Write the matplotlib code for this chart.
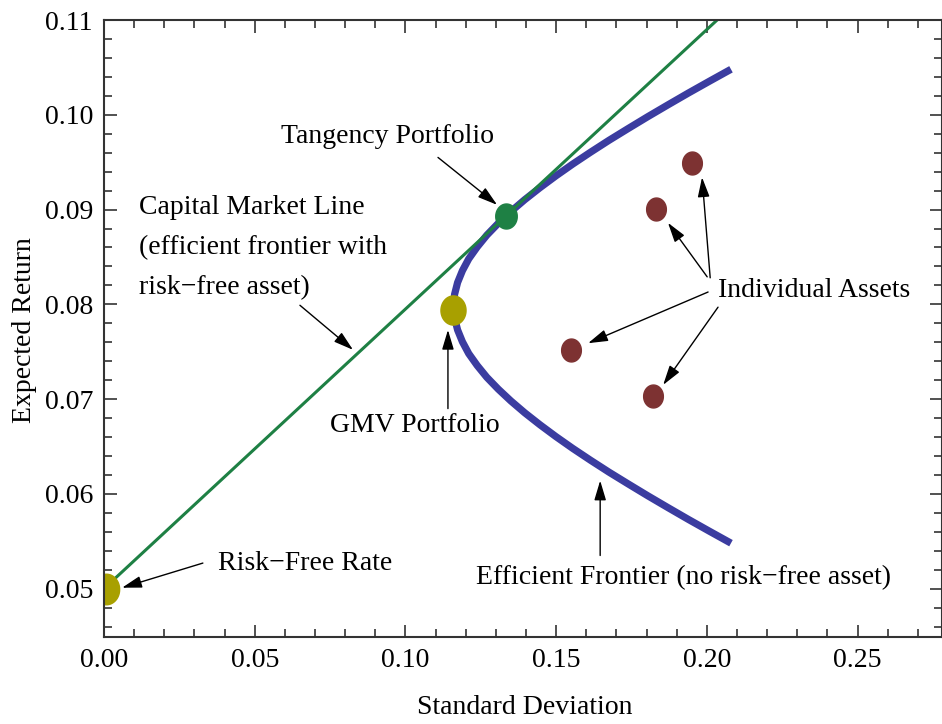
import matplotlib
matplotlib.use("Agg")
import matplotlib.pyplot as plt
import numpy as np

# values
frontier_sd = [0.2080, 0.2009, 0.1939, 0.1871, 0.1804, 0.1739, 0.1675, 0.1614, 0.1555, 0.1499,
               0.1446, 0.1396, 0.1350, 0.1308, 0.1270, 0.1238, 0.1210, 0.1189, 0.1173, 0.1163,
               0.1160,
               0.1163, 0.1173, 0.1189, 0.1210, 0.1238, 0.1270, 0.1308, 0.1350, 0.1396, 0.1446,
               0.1499, 0.1555, 0.1614, 0.1675, 0.1739, 0.1804, 0.1871, 0.1939, 0.2009, 0.2080]
frontier_ret = [0.05480, 0.05605, 0.05730, 0.05855, 0.05980, 0.06105, 0.06230, 0.06355, 0.06480, 0.06605,
                0.06730, 0.06855, 0.06980, 0.07105, 0.07230, 0.07355, 0.07480, 0.07605, 0.07730, 0.07855,
                0.07980,
                0.08105, 0.08230, 0.08355, 0.08480, 0.08605, 0.08730, 0.08855, 0.08980, 0.09105, 0.09230,
                0.09355, 0.09480, 0.09605, 0.09730, 0.09855, 0.09980, 0.10105, 0.10230, 0.10355, 0.10480]

cml_sd = [0.0, 0.2034]
cml_ret = [0.05, 0.11]

asset_sd = [0.155, 0.182, 0.183, 0.195]
asset_ret = [0.0752, 0.0703, 0.0901, 0.0949]

rf_point = (0.0008, 0.05)
gmv_point = (0.1157, 0.0794)
tan_point = (0.1332, 0.0893)

plt.rcParams['font.family'] = ['Liberation Serif', 'DejaVu Serif']
plt.rcParams['font.size'] = 20

# slightly tall ellipse marker (the reference dots are not round)
t = np.linspace(0, 2 * np.pi, 60)
ellipse = np.column_stack([0.86 * np.cos(t), np.sin(t)])

fig = plt.figure(figsize=(9.42, 7.24), dpi=100)
ax = fig.add_axes([104 / 942, 87 / 724, 838 / 942, 617 / 724])

ax.plot(frontier_sd, frontier_ret, color='#3b3ca0', lw=5.2, solid_capstyle='butt', zorder=2)
ax.plot(cml_sd, cml_ret, color='#1e8044', lw=2.2, zorder=3)

ax.plot(asset_sd, asset_ret, ls='none', marker=ellipse, ms=16.5, color='#7d3232', zorder=4)
ax.plot(*rf_point, marker=ellipse, ms=22, color='#a8a000', zorder=4, clip_on=True)
ax.plot(*gmv_point, marker=ellipse, ms=21, color='#a8a000', zorder=4)
ax.plot(*tan_point, marker=ellipse, ms=18, color='#1e8044', zorder=5)

ax.set_xlim(0, 0.278)
ax.set_ylim(0.0449, 0.11)
ax.set_xticks([0.0, 0.05, 0.10, 0.15, 0.20, 0.25])
ax.set_xticklabels(['0.00', '0.05', '0.10', '0.15', '0.20', '0.25'])
ax.set_yticks([0.05, 0.06, 0.07, 0.08, 0.09, 0.10, 0.11])
ax.set_yticklabels(['0.05', '0.06', '0.07', '0.08', '0.09', '0.10', '0.11'])
ax.set_xticks(np.arange(0, 0.2781, 0.01), minor=True)
ax.set_yticks(np.arange(0.046, 0.1101, 0.002), minor=True)
ax.tick_params(which='both', direction='in', top=True, right=True, color='#333333', width=1.2)
ax.tick_params(which='major', length=9, pad=8)
ax.tick_params(which='minor', length=5.5)
for s in ax.spines.values():
    s.set_color('#333333')
    s.set_linewidth(1.5)
    s.set_zorder(6)

arrow = dict(arrowstyle='-|>,head_length=0.6,head_width=0.18', color='black', lw=1.0,
             mutation_scale=20, shrinkA=0, shrinkB=0)

ax.text(0.0939, 0.0977, 'Tangency Portfolio', ha='center', va='center')
ax.annotate('', xy=(0.1304, 0.0905), xytext=(0.1108, 0.0955), arrowprops=arrow)

ax.text(0.0116, 0.0860, 'Capital Market Line\n(efficient frontier with\nrisk\u2212free asset)',
        ha='left', va='center', linespacing=1.78)
ax.annotate('', xy=(0.0826, 0.0752), xytext=(0.0650, 0.0799), arrowprops=arrow)

ax.text(0.1032, 0.0672, 'GMV Portfolio', ha='center', va='center')
ax.annotate('', xy=(0.1141, 0.0773), xytext=(0.1141, 0.0690), arrowprops=arrow)

ax.text(0.2037, 0.0815, 'Individual Assets', ha='left', va='center')
ax.annotate('', xy=(0.1984, 0.0934), xytext=(0.2011, 0.0828), arrowprops=arrow)
ax.annotate('', xy=(0.1871, 0.0886), xytext=(0.2001, 0.0829), arrowprops=arrow)
ax.annotate('', xy=(0.1606, 0.0759), xytext=(0.2004, 0.0813), arrowprops=arrow)
ax.annotate('', xy=(0.1855, 0.0715), xytext=(0.2037, 0.0797), arrowprops=arrow)

ax.text(0.0378, 0.0527, 'Risk\u2212Free Rate', ha='left', va='center')
ax.annotate('', xy=(0.0060, 0.0501), xytext=(0.0328, 0.0527), arrowprops=arrow)

ax.text(0.1234, 0.0512, 'Efficient Frontier (no risk\u2212free asset)', ha='left', va='center')
ax.annotate('', xy=(0.1646, 0.0614), xytext=(0.1646, 0.0535), arrowprops=arrow)

fig.text(525 / 942, 1 - 708 / 724, 'Standard Deviation', ha='center', va='center')
fig.text(25 / 942, 1 - 330 / 724, 'Expected Return', ha='center', va='center', rotation=90)

fig.savefig('out.png', dpi=100)
